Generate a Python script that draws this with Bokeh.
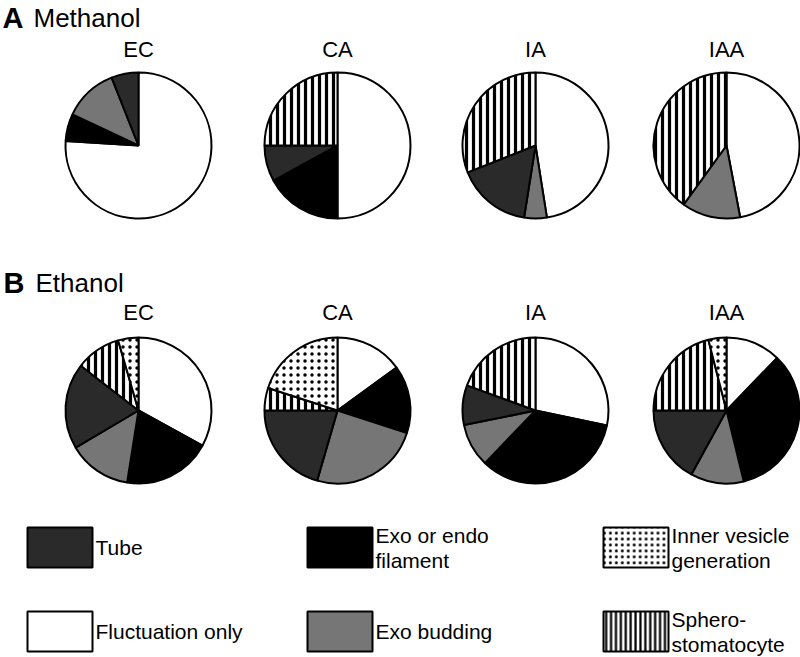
import math
from bokeh.plotting import figure
from bokeh.models import ColumnDataSource, Range1d
from bokeh.core.properties import value
from bokeh.embed import file_html
from bokeh.resources import INLINE

# ---------------- data ----------------
categories = ["Fluctuation only", "Exo or endo filament", "Exo budding",
              "Tube", "Sphero-stomatocyte", "Inner vesicle generation"]
panels = ["EC", "CA", "IA", "IAA"]

# percentages, clockwise from 12 o'clock in the category order above
methanol_ec = [76.0, 6.0, 12.0, 6.0, 0.0, 0.0]
methanol_ca = [50.0, 17.0, 0.0, 8.0, 25.0, 0.0]
methanol_ia = [47.5, 0.0, 5.0, 16.5, 31.0, 0.0]
methanol_iaa = [47.0, 0.0, 13.0, 0.0, 40.0, 0.0]

ethanol_ec = [33.0, 19.5, 14.0, 19.0, 10.0, 4.5]
ethanol_ca = [15.0, 15.0, 24.5, 20.5, 5.0, 20.0]
ethanol_ia = [28.3, 33.9, 9.6, 8.8, 19.4, 0.0]
ethanol_iaa = [12.2, 34.0, 11.8, 17.0, 21.0, 4.0]

section_letters = ["A", "B"]
section_names = ["Methanol", "Ethanol"]

legend_order = ["Tube", "Exo or endo filament", "Inner vesicle generation",
                "Fluctuation only", "Exo budding", "Sphero-stomatocyte"]
legend_lines = {
    "Tube": ["Tube"],
    "Exo or endo filament": ["Exo or endo", "filament"],
    "Inner vesicle generation": ["Inner vesicle", "generation"],
    "Fluctuation only": ["Fluctuation only"],
    "Exo budding": ["Exo budding"],
    "Sphero-stomatocyte": ["Sphero-", "stomatocyte"],
}

# ---------------- styles ----------------
fill_of = {"Fluctuation only": "white", "Exo or endo filament": "black",
           "Exo budding": "#767676", "Tube": "#2a2a2a",
           "Sphero-stomatocyte": "white", "Inner vesicle generation": "white"}
hatch_of = {"Fluctuation only": " ", "Exo or endo filament": " ",
            "Exo budding": " ", "Tube": " ",
            "Sphero-stomatocyte": "vertical_line", "Inner vesicle generation": "dot"}
hscale_of = {"Sphero-stomatocyte": 7.0, "Inner vesicle generation": 7.0}
hweight_of = {"Sphero-stomatocyte": 3.2, "Inner vesicle generation": 0.5}

FONT = value("Liberation Sans")

# layout in reference pixel coords (y measured from top)
W, H = 800, 657
pie_cx = [138, 337, 535, 726]
pie_cy = [145, 410]
pie_r = 73
label_y = [49, 312]
title_y = [17, 282]

def fy(y):
    return H - y

p = figure(width=W, height=H, output_backend="svg", toolbar_location=None,
           x_range=Range1d(0, W), y_range=Range1d(0, H),
           min_border=0, outline_line_color=None)
p.axis.visible = False
p.xgrid.visible = False
p.ygrid.visible = False
p.background_fill_color = "white"
p.border_fill_color = "white"

rows = [[methanol_ec, methanol_ca, methanol_ia, methanol_iaa],
        [ethanol_ec, ethanol_ca, ethanol_ia, ethanol_iaa]]

for r, row in enumerate(rows):
    # section titles
    p.text(x=[2 + r], y=[fy(title_y[r])], text=[section_letters[r]],
           text_font=FONT, text_font_size="29px", text_font_style="bold",
           text_baseline="middle", text_align="left", text_color="black")
    p.text(x=[33 + 2 * r], y=[fy(title_y[r])], text=[section_names[r]],
           text_font=FONT, text_font_size="26px",
           text_baseline="middle", text_align="left", text_color="black")
    for c, vals in enumerate(row):
        total = float(sum(vals))
        d = dict(x=[], y=[], start=[], end=[], fill=[], hatch=[], hs=[], hw=[])
        acc = 0.0
        for cat, v in zip(categories, vals):
            if v <= 0:
                continue
            t0 = acc / total * 2 * math.pi
            acc += v
            t1 = acc / total * 2 * math.pi
            d["x"].append(pie_cx[c])
            d["y"].append(fy(pie_cy[r]))
            d["start"].append(math.pi / 2 - t1)
            d["end"].append(math.pi / 2 - t0)
            d["fill"].append(fill_of[cat])
            d["hatch"].append(hatch_of[cat])
            d["hs"].append(hscale_of.get(cat, 8.0))
            d["hw"].append(hweight_of.get(cat, 1.0))
        src = ColumnDataSource(d)
        p.wedge(x="x", y="y", radius=pie_r, start_angle="start", end_angle="end",
                direction="anticlock", source=src, fill_color="fill",
                line_color="black", line_width=2,
                hatch_pattern="hatch", hatch_scale="hs", hatch_weight="hw",
                hatch_color="black")
        p.text(x=[pie_cx[c]], y=[fy(label_y[r])], text=[panels[c]],
               text_font=FONT, text_font_size="22px", text_align="center",
               text_baseline="middle", text_color="black")

# ---------------- legend ----------------
leg_col_x = [27, 307, 603]
leg_row_y = [527, 611]
box_w, box_h = 65, 40
for i, cat in enumerate(legend_order):
    rr, cc = divmod(i, 3)
    bx = leg_col_x[cc]
    by = leg_row_y[rr]
    p.rect(x=[bx + box_w / 2], y=[fy(by + box_h / 2)], width=box_w, height=box_h,
           fill_color=fill_of[cat], line_color="black", line_width=2,
           hatch_pattern=hatch_of[cat],
           hatch_scale=hscale_of.get(cat, 8.0) * (0.7 if cc == 2 and rr == 1 else 0.85),
           hatch_weight=hweight_of.get(cat, 1.0) * 0.7, hatch_color="black")
    lines = legend_lines[cat]
    n = len(lines)
    cy = by + box_h / 2
    for k, ln in enumerate(lines):
        ly = cy + (k - (n - 1) / 2) * 25
        p.text(x=[bx + box_w + 3], y=[fy(ly)], text=[ln], text_font=FONT,
               text_font_size="21px", text_align="left", text_baseline="middle",
               text_color="black")

open("out.html", "w").write(file_html(p, INLINE))
